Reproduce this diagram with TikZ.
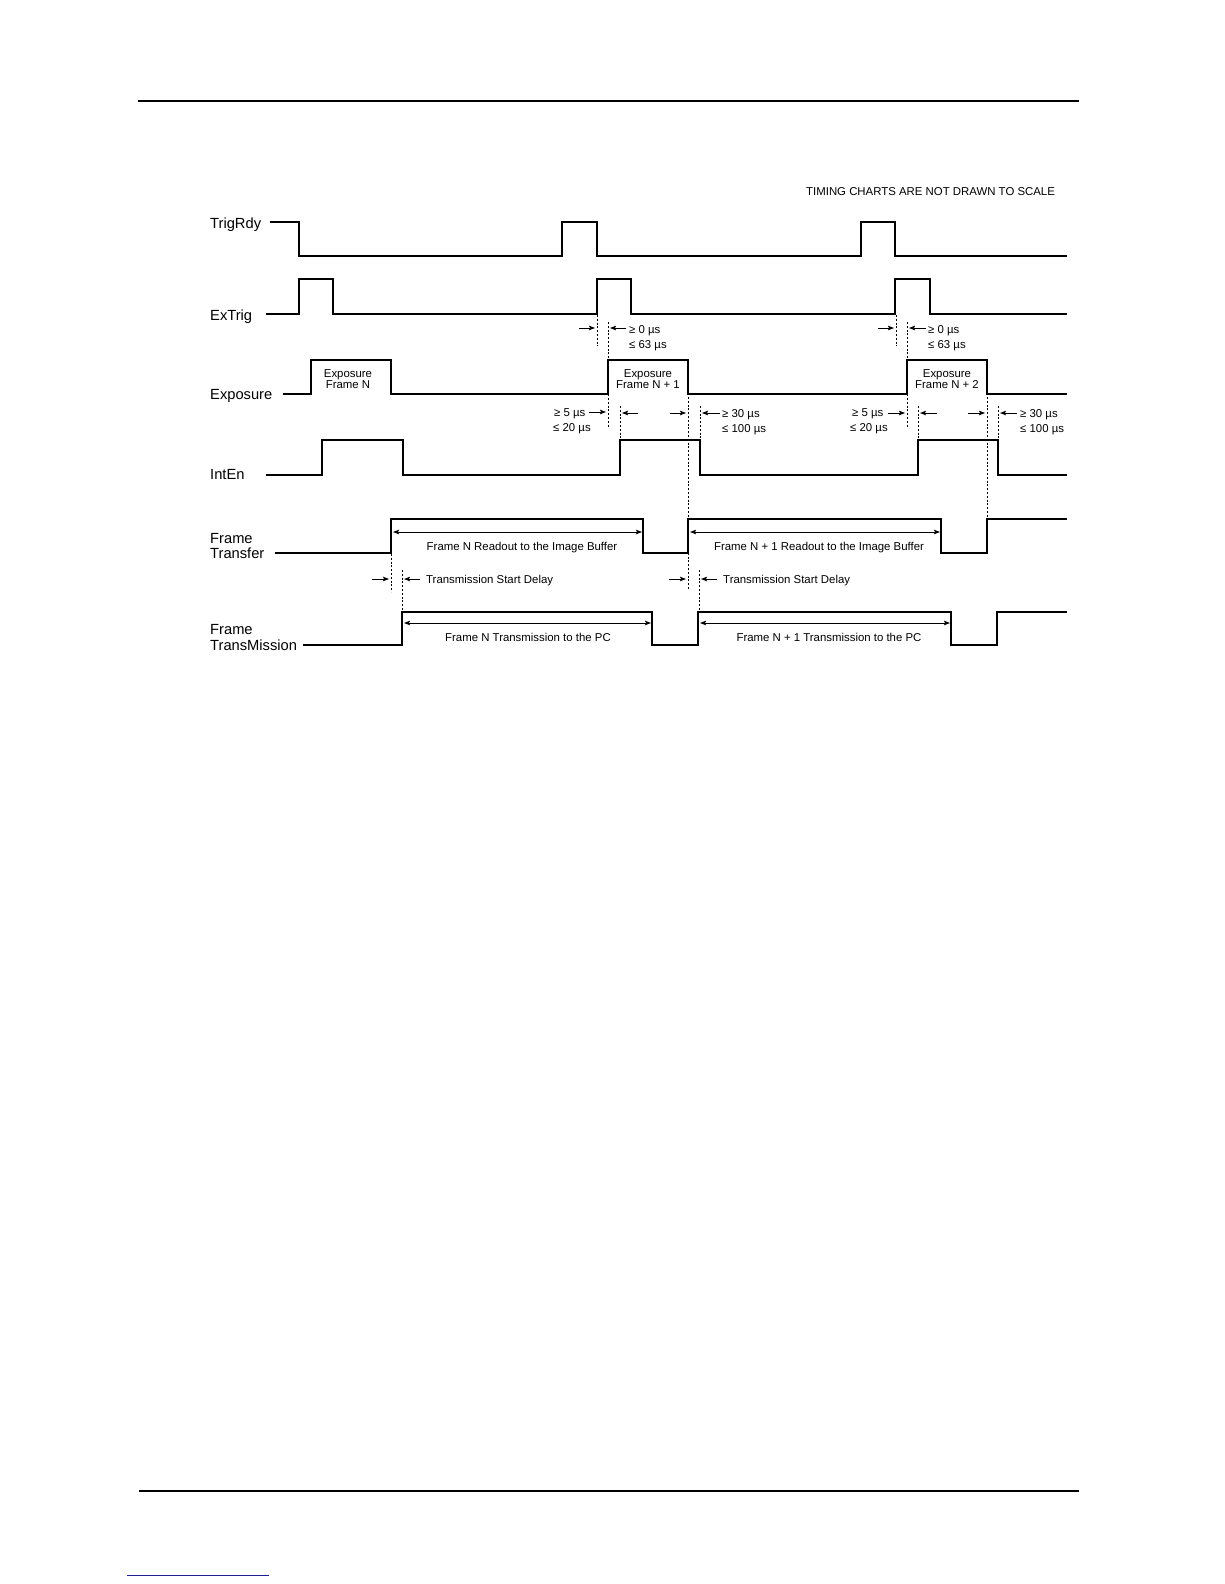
\documentclass[tikz,border=0pt]{standalone}
\usepackage{fontspec}
\setmainfont{Liberation Sans}
\usetikzlibrary{arrows.meta}
\definecolor{linkblue}{RGB}{30,30,140}
\newcommand{\biglbl}{\fontsize{14.7}{15}\selectfont}
\newcommand{\smllbl}{\fontsize{11.4}{11}\selectfont}
\begin{document}
\begin{tikzpicture}[x=1pt,y=-1pt,
  sig/.style={line width=1.2pt, line join=miter},
  dsh/.style={line width=1pt, dash pattern=on 2pt off 1.8pt},
  arr/.style={line width=0.9pt, -{Stealth[length=6pt,width=4.5pt,inset=1pt]}},
  dbl/.style={line width=0.9pt, {Stealth[length=6pt,width=4.5pt,inset=1pt]}-{Stealth[length=6pt,width=4.5pt,inset=1pt]}},
  lbl/.style={font=\biglbl, inner sep=0pt, anchor=base west},
  sml/.style={font=\smllbl, inner sep=0pt, anchor=base west},
  smc/.style={font=\smllbl, inner sep=0pt, anchor=base}]
\useasboundingbox (0,0) rectangle (1224,1584);
% page rules
\draw[line width=2pt] (138,101) -- (1079,101);
\draw[line width=2pt] (139,1491) -- (1079,1491);
\draw[line width=1pt, linkblue] (127,1575) -- (269,1575);
% note
\node[sml] (note) at (806,195) {TIMING CHARTS ARE NOT DRAWN TO SCALE};
% signal labels
\node[lbl] (ltrig) at (210,228) {TrigRdy};
\node[lbl] (lex) at (210,320) {ExTrig};
\node[lbl] (lexp) at (210,399) {Exposure};
\node[lbl] (lint) at (210,479) {IntEn};
\node[lbl] (lft1) at (210,543) {Frame};
\node[lbl] (lft2) at (210,558) {Transfer};
\node[lbl] (lfm1) at (210,634) {Frame};
\node[lbl] (lfm2) at (210,650) {TransMission};
% signals
\draw[sig] (270,222)--(299,222)--(299,256)--(562,256)--(562,222)--(597,222)--(597,256)--(861,256)--(861,222)--(895,222)--(895,256)--(1067,256);
\draw[sig] (266,314)--(299,314)--(299,279)--(333,279)--(333,314)--(597,314)--(597,279)--(631,279)--(631,314)--(895,314)--(895,279)--(930,279)--(930,314)--(1067,314);
\draw[sig] (283,394)--(311,394)--(311,360)--(391,360)--(391,394)--(608,394)--(608,360)--(688,360)--(688,394)--(907,394)--(907,360)--(987,360)--(987,394)--(1067,394);
\draw[sig] (266,475)--(322,475)--(322,440)--(403,440)--(403,475)--(620,475)--(620,440)--(700,440)--(700,475)--(918,475)--(918,440)--(998,440)--(998,475)--(1067,475);
\draw[sig] (275,553)--(391,553)--(391,519)--(643,519)--(643,553)--(688,553)--(688,519)--(941,519)--(941,553)--(987,553)--(987,519)--(1067,519);
\draw[sig] (303,645)--(402,645)--(402,612)--(652,612)--(652,645)--(698,645)--(698,612)--(951,612)--(951,645)--(997,645)--(997,612)--(1067,612);
% exposure box texts
\node[smc] (e1a) at (348,377) {Exposure};
\node[smc] (e1b) at (348,388) {Frame N};
\node[smc] (e2a) at (648,377) {Exposure};
\node[smc] (e2b) at (648,388) {Frame N + 1};
\node[smc] (e3a) at (947,377) {Exposure};
\node[smc] (e3b) at (947,388) {Frame N + 2};
% dashed guide lines
\draw[dsh] (597,315)--(597,346);
\draw[dsh] (608,322)--(608,427);
\draw[dsh] (896,315)--(896,346);
\draw[dsh] (907,322)--(907,428);
\draw[dsh] (620,406)--(620,440);
\draw[dsh] (688,397)--(688,590);
\draw[dsh] (700,406)--(700,440);
\draw[dsh] (918,406)--(918,440);
\draw[dsh] (987,397)--(987,519);
\draw[dsh] (998,406)--(998,440);
\draw[dsh] (391,554)--(391,592);
\draw[dsh] (402,570)--(402,612);
\draw[dsh] (699,570)--(699,612);
% ExTrig to exposure delay
\draw[arr] (579,328)--(595,328);
\draw[arr] (626,328)--(610,328);
\node[sml] (d1a) at (629,333) {≥ 0 µs};
\node[sml] (d1b) at (629,348) {≤ 63 µs};
\draw[arr] (878,328)--(894,328);
\draw[arr] (926,328)--(909,328);
\node[sml] (d2a) at (928,333) {≥ 0 µs};
\node[sml] (d2b) at (928,348) {≤ 63 µs};
% exposure / IntEn delays
\node[sml] (f1a) at (554,416) {≥ 5 µs};
\node[sml] (f1b) at (553,431) {≤ 20 µs};
\draw[arr] (589,412)--(606,412);
\draw[arr] (638,413)--(622,413);
\draw[arr] (670,413)--(686,413);
\draw[arr] (720,413)--(702,413);
\node[sml] (g1a) at (722,417) {≥ 30 µs};
\node[sml] (g1b) at (722,432) {≤ 100 µs};
\node[sml] (f2a) at (852,416) {≥ 5 µs};
\node[sml] (f2b) at (850,431) {≤ 20 µs};
\draw[arr] (888,413)--(905,413);
\draw[arr] (937,413)--(920,413);
\draw[arr] (968,413)--(985,413);
\draw[arr] (1017,413)--(1000,413);
\node[sml] (g2a) at (1020,417) {≥ 30 µs};
\node[sml] (g2b) at (1020,432) {≤ 100 µs};
% frame transfer
\draw[dbl] (393,532)--(642,532);
\node[smc] (r1) at (522,550) {Frame N Readout to the Image Buffer};
\draw[dbl] (690,532)--(940,532);
\node[smc] (r2) at (819,550) {Frame N + 1 Readout to the Image Buffer};
% transmission start delay
\draw[arr] (372,579)--(389,579);
\draw[arr] (420,579)--(404,579);
\node[sml] (t1) at (426,583) {Transmission Start Delay};
\draw[arr] (669,579)--(686,579);
\draw[arr] (717,579)--(701,579);
\node[sml] (t2) at (723,583) {Transmission Start Delay};
% transmission
\draw[dbl] (404,623)--(651,623);
\node[smc] (m1) at (528,641) {Frame N Transmission to the PC};
\draw[dbl] (700,623)--(950,623);
\node[smc] (m2) at (829,641) {Frame N + 1 Transmission to the PC};
\end{tikzpicture}
\end{document}
